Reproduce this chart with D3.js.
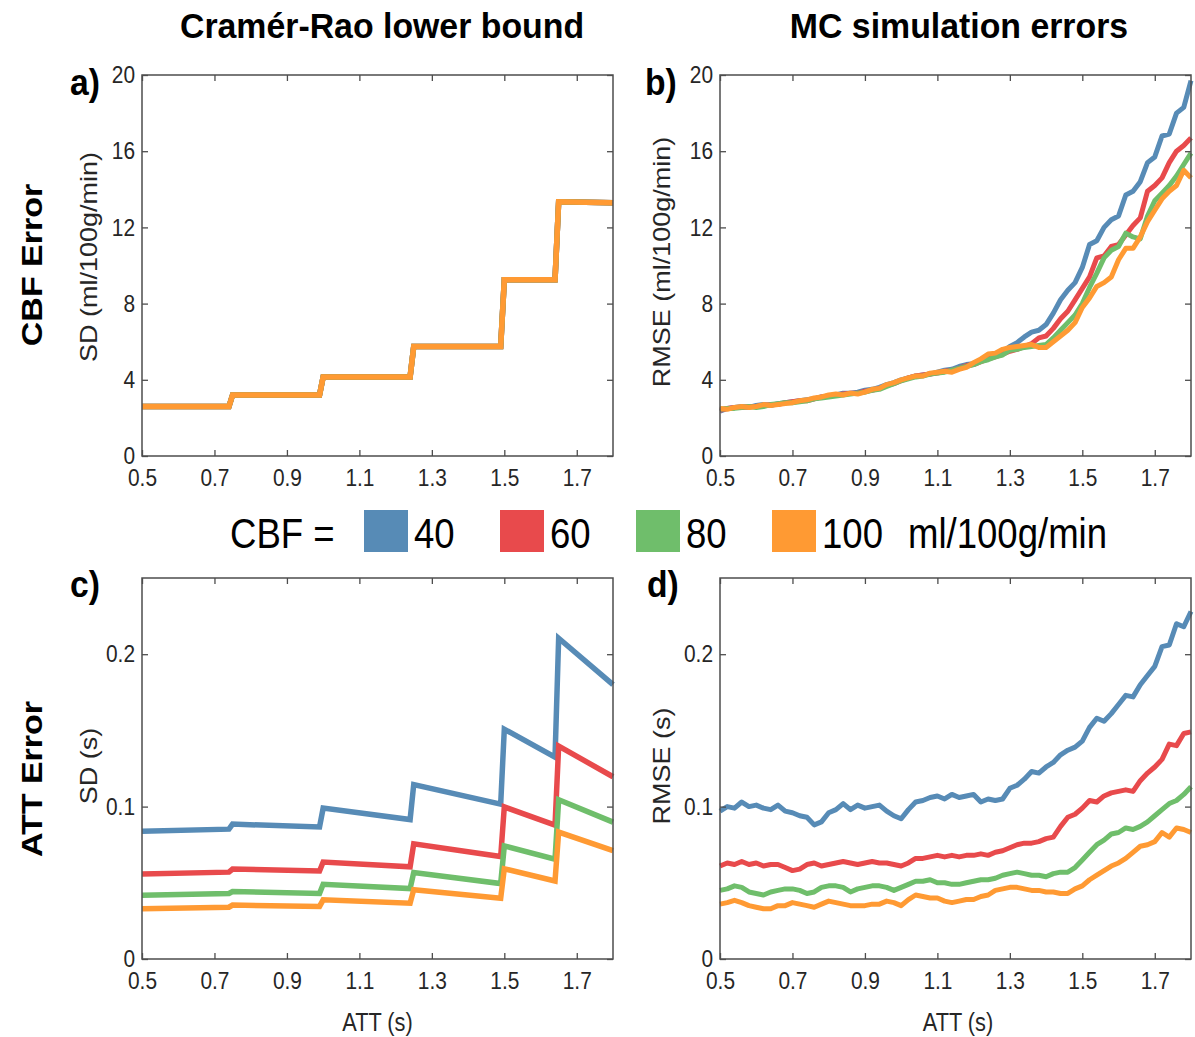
<!DOCTYPE html>
<html><head><meta charset="utf-8">
<script src="https://cdn.jsdelivr.net/npm/d3@7"></script>
<style>body{margin:0;background:#fff;} svg{display:block;font-family:"Liberation Sans",Arial,sans-serif;}</style>
</head><body><svg id="chart" width="1195" height="1037"></svg>
<script>
// ---------- data ----------
const cbfLevels = ["40", "60", "80", "100"];
const seriesColors = ["#578bb6", "#e84a4c", "#6fbe6b", "#ff9a33"];
const xTickValues = [0.5, 0.7, 0.9, 1.1, 1.3, 1.5, 1.7];
const cbfYTickValues = [0, 4, 8, 12, 16, 20];
const attYTickValues = [0, 0.1, 0.2];
const attYTickLabels = ["0", "0.1", "0.2"];

// Cramér-Rao lower bound (piecewise, PLD schedule)
const crlbAtt = [0.5, 0.74, 0.75, 0.99, 1.0, 1.24, 1.25, 1.49, 1.5, 1.64, 1.65, 1.8];
const crlbCbfSD = [2.6, 2.6, 3.2, 3.2, 4.15, 4.15, 5.75, 5.75, 9.25, 9.25, 13.35, 13.3];
const crlbAttSD40  = [0.0839, 0.0852, 0.0885, 0.0866, 0.0990, 0.0915, 0.1145, 0.1016, 0.1508, 0.1325, 0.2105, 0.1800];
const crlbAttSD60  = [0.0557, 0.0570, 0.0590, 0.0577, 0.0636, 0.0605, 0.0756, 0.0672, 0.0998, 0.0878, 0.1397, 0.1196];
const crlbAttSD80  = [0.0418, 0.0430, 0.0443, 0.0430, 0.0490, 0.0462, 0.0568, 0.0495, 0.0742, 0.0655, 0.1045, 0.0898];
const crlbAttSD100 = [0.0330, 0.0340, 0.0354, 0.0345, 0.0388, 0.0366, 0.0455, 0.0398, 0.0592, 0.0512, 0.0833, 0.0711];

// Monte-Carlo simulation errors
const mcAtt = [0.50,0.52,0.54,0.56,0.58,0.60,0.62,0.64,0.66,0.68,
               0.70,0.72,0.74,0.76,0.78,0.80,0.82,0.84,0.86,0.88,
               0.90,0.92,0.94,0.96,0.98,1.00,1.02,1.04,1.06,1.08,
               1.10,1.12,1.14,1.16,1.18,1.20,1.22,1.24,1.26,1.28,
               1.30,1.32,1.34,1.36,1.38,1.40,1.42,1.44,1.46,1.48,
               1.50,1.52,1.54,1.56,1.58,1.60,1.62,1.64,1.66,1.68,
               1.70,1.72,1.74,1.76,1.78,1.80];
const mcCbfRmse40 = [2.35,2.50,2.55,2.60,2.55,2.65,2.70,2.65,2.75,2.80,
                     2.85,2.90,2.95,3.00,3.10,3.15,3.20,3.30,3.30,3.35,
                     3.45,3.50,3.60,3.75,3.85,4.00,4.10,4.20,4.25,4.30,
                     4.40,4.50,4.55,4.70,4.80,4.85,5.00,5.10,5.25,5.45,
                     5.75,5.95,6.25,6.50,6.60,6.90,7.50,8.20,8.70,9.10,
                     9.90,11.1,11.3,12.0,12.4,12.6,13.7,13.9,14.4,15.4,
                     15.7,16.8,16.9,18.0,18.3,19.7];
const mcCbfRmse60 = [2.40,2.50,2.55,2.55,2.60,2.60,2.65,2.70,2.70,2.80,
                     2.85,2.90,2.90,3.00,3.10,3.15,3.20,3.25,3.30,3.30,
                     3.40,3.45,3.55,3.70,3.80,3.95,4.10,4.20,4.25,4.30,
                     4.35,4.45,4.50,4.60,4.75,4.80,4.95,5.10,5.20,5.35,
                     5.50,5.60,5.75,5.90,6.20,6.30,6.70,7.20,7.60,8.20,
                     8.80,9.40,10.4,10.5,11.0,11.1,11.6,12.1,12.5,13.9,
                     14.2,14.6,15.4,16.0,16.3,16.7];
const mcCbfRmse80 = [2.45,2.50,2.50,2.55,2.60,2.55,2.60,2.70,2.75,2.80,
                     2.80,2.85,2.90,3.00,3.05,3.10,3.15,3.20,3.25,3.30,
                     3.35,3.45,3.50,3.65,3.80,3.95,4.05,4.15,4.20,4.30,
                     4.35,4.40,4.50,4.60,4.70,4.80,4.95,5.05,5.20,5.30,
                     5.55,5.60,5.70,5.75,5.80,5.85,6.20,6.60,7.00,7.40,
                     8.00,8.85,9.60,10.4,10.8,11.0,11.7,11.5,11.4,12.6,
                     13.4,13.8,14.2,14.7,15.3,15.9];
const mcCbfRmse100 = [2.50,2.45,2.55,2.60,2.55,2.60,2.70,2.65,2.70,2.75,
                      2.80,2.90,2.95,3.05,3.10,3.20,3.25,3.20,3.30,3.25,
                      3.35,3.50,3.55,3.75,3.85,4.00,4.10,4.20,4.20,4.35,
                      4.40,4.45,4.40,4.55,4.65,4.90,5.10,5.35,5.40,5.60,
                      5.70,5.75,5.80,5.85,5.70,5.70,6.00,6.30,6.60,7.00,
                      7.80,8.30,8.90,9.10,9.40,10.3,10.9,10.9,11.5,12.3,
                      12.9,13.5,13.9,14.2,15.0,14.6];
const mcAttRmse40 = [0.097,0.100,0.099,0.103,0.100,0.101,0.099,0.098,0.101,0.097,
                     0.096,0.094,0.093,0.088,0.090,0.096,0.098,0.102,0.098,0.101,
                     0.099,0.100,0.101,0.097,0.094,0.092,0.098,0.103,0.104,0.106,
                     0.107,0.105,0.108,0.106,0.107,0.108,0.103,0.105,0.104,0.105,
                     0.112,0.114,0.118,0.123,0.122,0.126,0.129,0.134,0.137,0.139,
                     0.143,0.152,0.158,0.156,0.161,0.167,0.173,0.172,0.180,0.186,
                     0.192,0.205,0.206,0.220,0.218,0.228];
const mcAttRmse60 = [0.061,0.063,0.062,0.064,0.062,0.063,0.061,0.062,0.062,0.060,
                     0.058,0.059,0.062,0.063,0.061,0.062,0.063,0.064,0.063,0.062,
                     0.063,0.064,0.063,0.063,0.062,0.061,0.063,0.066,0.066,0.067,
                     0.068,0.067,0.068,0.067,0.068,0.068,0.069,0.068,0.070,0.071,
                     0.073,0.075,0.076,0.076,0.077,0.079,0.080,0.087,0.093,0.095,
                     0.099,0.104,0.103,0.107,0.109,0.110,0.111,0.110,0.117,0.122,
                     0.126,0.131,0.141,0.140,0.148,0.149];
const mcAttRmse80 = [0.045,0.046,0.048,0.047,0.044,0.043,0.042,0.044,0.045,0.046,
                     0.046,0.045,0.043,0.044,0.047,0.048,0.048,0.047,0.044,0.046,
                     0.047,0.048,0.048,0.047,0.045,0.047,0.049,0.051,0.051,0.052,
                     0.050,0.050,0.049,0.049,0.050,0.051,0.052,0.052,0.053,0.055,
                     0.056,0.057,0.056,0.055,0.055,0.054,0.056,0.057,0.057,0.060,
                     0.065,0.070,0.075,0.078,0.082,0.083,0.086,0.085,0.087,0.090,
                     0.094,0.098,0.102,0.104,0.108,0.113];
const mcAttRmse100 = [0.036,0.037,0.0385,0.037,0.035,0.034,0.033,0.033,0.035,0.035,
                      0.037,0.036,0.035,0.034,0.036,0.038,0.037,0.036,0.035,0.035,
                      0.035,0.036,0.036,0.038,0.037,0.035,0.039,0.042,0.041,0.040,
                      0.040,0.038,0.037,0.038,0.039,0.039,0.041,0.042,0.045,0.046,
                      0.047,0.047,0.046,0.045,0.045,0.044,0.044,0.043,0.043,0.046,
                      0.048,0.052,0.055,0.058,0.061,0.063,0.066,0.070,0.074,0.075,
                      0.077,0.083,0.080,0.086,0.085,0.083];

// ---------- drawing ----------
const svg = d3.select("#chart");
const SX = 0.87;
const TXT = "#262626";

function addText(parent, x, y, str, size, o = {}) {
  const t = parent.append("text").text(str)
    .attr("font-size", size)
    .attr("font-weight", o.weight || "normal")
    .attr("fill", o.fill || TXT)
    .attr("text-anchor", o.anchor || "start");
  const sx = o.sx == null ? SX : o.sx;
  if (o.rotate) t.attr("transform", `translate(${x},${y}) rotate(-90) scale(1,${sx})`);
  else t.attr("transform", `translate(${x},${y}) scale(${sx},1)`);
  return t;
}

const AX = "#4d4d4d";
function drawPanel(box, yDomain, yTicks, yLabels, xs, seriesList, lw, join) {
  const g = svg.append("g");
  const x = d3.scaleLinear().domain([0.5, 1.8]).range([box.x0, box.x1]);
  const y = d3.scaleLinear().domain(yDomain).range([box.y1, box.y0]);
  const line = d3.line().x((d, i) => x(xs[i])).y(d => y(d));

  seriesList.forEach(s => {
    g.append("path").datum(s.values)
      .attr("d", line)
      .attr("fill", "none")
      .attr("stroke", s.color)
      .attr("stroke-width", lw)
      .attr("stroke-linejoin", join)
      .attr("stroke-linecap", "butt");
  });

  const tk = 6;
  const bottom = g.append("g").attr("transform", `translate(0,${box.y1})`)
    .call(d3.axisBottom(x).tickValues(xTickValues).tickFormat(d3.format(".1f"))
      .tickSizeInner(-tk).tickSizeOuter(0).tickPadding(13));
  const top = g.append("g").attr("transform", `translate(0,${box.y0})`)
    .call(d3.axisTop(x).tickValues(xTickValues).tickFormat("").tickSizeInner(-tk).tickSizeOuter(0));
  const left = g.append("g").attr("transform", `translate(${box.x0},0)`)
    .call(d3.axisLeft(y).tickValues(yTicks).tickFormat((d, i) => yLabels[i])
      .tickSizeInner(-tk).tickSizeOuter(0).tickPadding(7));
  const right = g.append("g").attr("transform", `translate(${box.x1},0)`)
    .call(d3.axisRight(y).tickValues(yTicks).tickFormat("").tickSizeInner(-tk).tickSizeOuter(0));

  [bottom, top, left, right].forEach(a => {
    a.select(".domain").remove();
    a.selectAll("line").attr("stroke", AX).attr("stroke-width", 1.3);
    a.selectAll("text").attr("font-size", 24).attr("fill", TXT)
      .attr("font-family", '"Liberation Sans", Arial, sans-serif');
  });
  bottom.selectAll("text").attr("transform", `scale(${SX},1)`);
  left.selectAll("text").attr("x", 0).attr("transform", `translate(-7,0) scale(${SX},1)`);

  g.append("rect").attr("x", box.x0).attr("y", box.y0)
    .attr("width", box.x1 - box.x0).attr("height", box.y1 - box.y0)
    .attr("fill", "none").attr("stroke", AX).attr("stroke-width", 1.5);
  return g;
}

const boxA = {x0: 142, x1: 613, y0: 75, y1: 456};
const boxB = {x0: 720, x1: 1191, y0: 75, y1: 456};
const boxC = {x0: 142, x1: 613, y0: 578, y1: 959};
const boxD = {x0: 720, x1: 1191, y0: 578, y1: 959};

// a) CRLB CBF: identical for all CBF levels (lines overlap, orange on top)
drawPanel(boxA, [0, 20], cbfYTickValues, cbfYTickValues.map(String), crlbAtt,
  seriesColors.map(c => ({color: c, values: crlbCbfSD})), 5.5, "miter");
// b) MC CBF
drawPanel(boxB, [0, 20], cbfYTickValues, cbfYTickValues.map(String), mcAtt,
  [mcCbfRmse40, mcCbfRmse60, mcCbfRmse80, mcCbfRmse100].map((v, i) => ({color: seriesColors[i], values: v})), 5, "round");
// c) CRLB ATT
drawPanel(boxC, [0, 0.25], attYTickValues, attYTickLabels, crlbAtt,
  [crlbAttSD40, crlbAttSD60, crlbAttSD80, crlbAttSD100].map((v, i) => ({color: seriesColors[i], values: v})), 5.5, "miter");
// d) MC ATT
drawPanel(boxD, [0, 0.25], attYTickValues, attYTickLabels, mcAtt,
  [mcAttRmse40, mcAttRmse60, mcAttRmse80, mcAttRmse100].map((v, i) => ({color: seriesColors[i], values: v})), 5, "round");

// titles
addText(svg, 382, 38, "Cramér-Rao lower bound", 36, {anchor: "middle", weight: "bold", sx: 0.94, fill: "#000"});
addText(svg, 959, 38, "MC simulation errors", 36, {anchor: "middle", weight: "bold", sx: 0.94, fill: "#000"});
addText(svg, 42, 265, "CBF Error", 34, {anchor: "middle", weight: "bold", rotate: true, fill: "#000"});
addText(svg, 42, 779, "ATT Error", 34, {anchor: "middle", weight: "bold", rotate: true, fill: "#000"});

// panel letters
addText(svg, 70, 95, "a)", 37, {weight: "bold", sx: 0.91, fill: "#000"});
addText(svg, 645, 95, "b)", 37, {weight: "bold", sx: 0.91, fill: "#000"});
addText(svg, 70, 597, "c)", 37, {weight: "bold", sx: 0.91, fill: "#000"});
addText(svg, 647, 597, "d)", 37, {weight: "bold", sx: 0.91, fill: "#000"});

// axis labels
addText(svg, 97, 257, "SD (ml/100g/min)", 27, {anchor: "middle", rotate: true});
addText(svg, 670, 262, "RMSE (ml/100g/min)", 27, {anchor: "middle", rotate: true});
addText(svg, 97, 766, "SD (s)", 27, {anchor: "middle", rotate: true});
addText(svg, 670, 766, "RMSE (s)", 27, {anchor: "middle", rotate: true});
addText(svg, 377.5, 1031, "ATT (s)", 25, {anchor: "middle"});
addText(svg, 958, 1031, "ATT (s)", 25, {anchor: "middle"});

// legend
const legend = svg.append("g");
addText(legend, 230, 548, "CBF =", 42, {fill: "#000"});
const swatchX = [364, 500, 636, 772];
cbfLevels.forEach((lv, i) => {
  legend.append("rect").attr("x", swatchX[i]).attr("y", 510).attr("width", 44).attr("height", 42)
    .attr("fill", seriesColors[i]);
  addText(legend, swatchX[i] + 50, 548, lv, 42, {fill: "#000"});
});
addText(legend, 908, 548, "ml/100g/min", 42, {fill: "#000"});
</script>
</body></html>
